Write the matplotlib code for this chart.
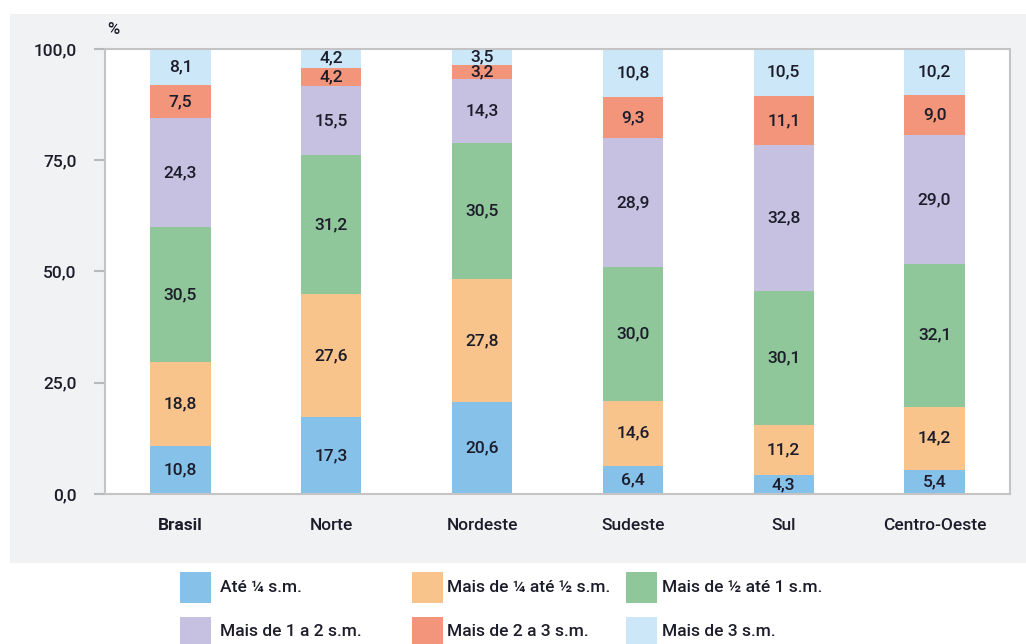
import matplotlib.pyplot as plt
from matplotlib.patches import Rectangle
import numpy as np

plt.rcParams['font.family'] = ['Roboto', 'DejaVu Sans']
plt.rcParams['font.weight'] = 'medium'

# Distribution by income class (% of households)
regions = ["Brasil", "Norte", "Nordeste", "Sudeste", "Sul", "Centro-Oeste"]
classes = ["Até ¼ s.m.", "Mais de ¼ até ½ s.m.", "Mais de ½ até 1 s.m.",
           "Mais de 1 a 2 s.m.", "Mais de 2 a 3 s.m.", "Mais de 3 s.m."]
ate_1_4 = [10.8, 17.3, 20.6, 6.4, 4.3, 5.4]
de_1_4_a_1_2 = [18.8, 27.6, 27.8, 14.6, 11.2, 14.2]
de_1_2_a_1 = [30.5, 31.2, 30.5, 30.0, 30.1, 32.1]
de_1_a_2 = [24.3, 15.5, 14.3, 28.9, 32.8, 29.0]
de_2_a_3 = [7.5, 4.2, 3.2, 9.3, 11.1, 9.0]
mais_3 = [8.1, 4.2, 3.5, 10.8, 10.5, 10.2]
series = [ate_1_4, de_1_4_a_1_2, de_1_2_a_1, de_1_a_2, de_2_a_3, mais_3]
yticks = [0, 25, 50, 75, 100]

colors = ["#85c1e9", "#f9c38c", "#8fc79b", "#c6c1e0", "#f2957a", "#cbe7f8"]
text_col = "#1c1c2a"

W, H = 1026, 644
fig = plt.figure(figsize=(W / 100, H / 100), dpi=100)

# gray background panel behind the plot
fig.patches.append(Rectangle((10 / W, 1 - 563 / H), 1 - 10 / W, (563 - 14) / H,
                             transform=fig.transFigure, facecolor="#f1f2f4",
                             edgecolor="none", zorder=-1))

ax = fig.add_axes([105 / W, 1 - 494 / H, (1010 - 105) / W, (494 - 49) / H])
ax.set_facecolor("white")

x = np.arange(len(regions))
bottom = np.zeros(len(regions))
for vals, col in zip(series, colors):
    vals = np.array(vals)
    ax.bar(x, vals, 0.4, bottom=bottom, color=col, edgecolor="none", zorder=2)
    for xi, b, v in zip(x, bottom, vals):
        ax.text(xi, b + v / 2, f"{v:.1f}".replace(".", ","), ha="center",
                va="center", fontsize=12.5, color=text_col, zorder=3)
    bottom += vals

ax.set_xlim(-0.5, len(regions) - 0.5)
ax.set_ylim(0, 100)
ax.set_yticks(yticks)
ax.set_yticklabels([f"{t:.1f}".replace(".", ",") for t in yticks],
                   fontsize=12.5, color=text_col)
ax.set_xticks(x)
ax.set_xticklabels(regions, fontsize=12.5, color=text_col)
ax.get_xticklabels()[0].set_fontweight("bold")
ax.tick_params(axis="y", length=8, width=1.5, color="#b9b9b9", pad=12.5)
ax.tick_params(axis="x", length=0, pad=17)
for s in ax.spines.values():
    s.set_color("#c4c4c4")
    s.set_linewidth(1.5)

fig.text(113 / W, 1 - 30 / H, "%", ha="center", va="center",
         fontsize=12, color=text_col)

# legend, drawn by hand in a 3x2 grid
col_x = [180, 412, 626]
text_x = [220, 447, 662]
row_y = [587, 632]
for i, (lab, col) in enumerate(zip(classes, colors)):
    r, c = divmod(i, 3)
    fig.patches.append(Rectangle((col_x[c] / W, 1 - (row_y[r] + 15.5) / H),
                                 31 / W, 31 / H, transform=fig.transFigure,
                                 facecolor=col, edgecolor="none"))
    fig.text(text_x[c] / W, 1 - row_y[r] / H, lab, ha="left", va="center",
             fontsize=12.5, color=text_col)

fig.savefig("out.png", dpi=100, facecolor="white")
